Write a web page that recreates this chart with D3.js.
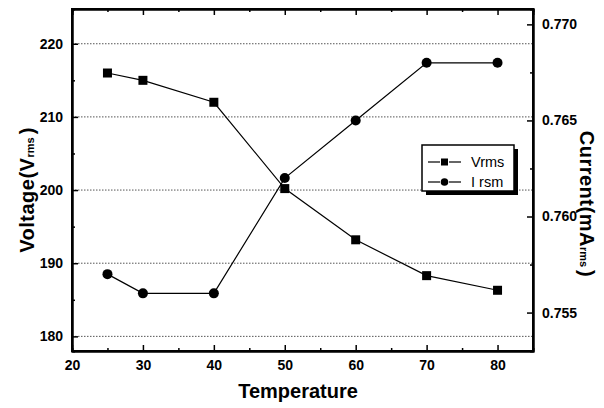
<!DOCTYPE html>
<html>
<head>
<meta charset="utf-8">
<script src="https://cdn.jsdelivr.net/npm/d3@7"></script>
<style>
  body { margin: 0; background: #fff; }
  text { font-family: "Liberation Sans", Arial, sans-serif; fill: #000; }
</style>
</head>
<body>
<div class="chart"></div>
<script>
const temperature = [25, 30, 40, 50, 60, 70, 80]
const vrms = [216, 215, 212, 200.2, 193.2, 188.3, 186.3]
const irms = [0.757, 0.756, 0.756, 0.762, 0.765, 0.768, 0.768]
const xTicks = [20, 30, 40, 50, 60, 70, 80]
const vTicks = [180, 190, 200, 210, 220]
const iTicks = [0.755, 0.760, 0.765, 0.770]

const width = 604, height = 408
const mLeft = 72, mRight = 533, mTop = 9, mBottom = 351

const svg = d3.select('.chart').append('svg')
    .attr('width', width)
    .attr('height', height)

const x = d3.scaleLinear().domain([20, 85]).range([mLeft, mRight])
const yV = d3.scaleLinear().domain([178, 224.75]).range([mBottom, mTop])
const yI = d3.scaleLinear().domain([0.753, 0.7708]).range([mBottom, mTop])

// dotted grid on the voltage ticks
svg.append('g').selectAll('line')
    .data(vTicks)
    .enter().append('line')
    .attr('x1', mLeft).attr('x2', mRight)
    .attr('y1', d => yV(d)).attr('y2', d => yV(d))
    .attr('stroke', '#555')
    .attr('stroke-width', 1)
    .attr('stroke-dasharray', '1.5,1.5')

// axes, ticks pointing inward
const tick = (axis) => axis.tickSizeOuter(0).tickSizeInner(-6).tickPadding(9)

const gx = svg.append('g').attr('transform', `translate(0,${mBottom})`)
    .call(tick(d3.axisBottom(x).tickValues(xTicks).tickFormat(d3.format('d'))))
gx.append('g').call(d3.axisBottom(x).tickValues([25, 35, 45, 55, 65, 75]).tickSize(-3).tickFormat(''))

const gxt = svg.append('g').attr('transform', `translate(0,${mTop})`)
    .call(d3.axisTop(x).tickValues(xTicks).tickSizeOuter(0).tickSize(-6).tickFormat(''))
gxt.append('g').call(d3.axisTop(x).tickValues([25, 35, 45, 55, 65, 75]).tickSize(-3).tickFormat(''))

const gl = svg.append('g').attr('transform', `translate(${mLeft},0)`)
    .call(tick(d3.axisLeft(yV).tickValues(vTicks)))
gl.append('g').call(d3.axisLeft(yV).tickValues([185, 195, 205, 215]).tickSize(-3).tickFormat(''))

const gr = svg.append('g').attr('transform', `translate(${mRight},0)`)
    .call(tick(d3.axisRight(yI).tickValues(iTicks).tickFormat(d3.format('.3f'))))
gr.append('g').call(d3.axisRight(yI).tickValues([0.7575, 0.7625, 0.7675]).tickSize(-3).tickFormat(''))

svg.selectAll('.domain').attr('stroke', '#000').attr('stroke-width', 2)
svg.selectAll('.tick line').attr('stroke', '#000').attr('stroke-width', 1.5)
svg.selectAll('.tick text')
    .style('font-size', '14px')
    .style('font-weight', 'bold')

// frame
svg.append('rect')
    .attr('x', mLeft).attr('y', mTop)
    .attr('width', mRight - mLeft).attr('height', mBottom - mTop)
    .attr('fill', 'none')
    .attr('stroke', '#000')
    .attr('stroke-width', 2)

// series
const vPts = temperature.map((t, i) => [x(t), yV(vrms[i])])
const iPts = temperature.map((t, i) => [x(t), yI(irms[i])])

svg.append('path')
    .attr('d', d3.line()(vPts))
    .attr('fill', 'none').attr('stroke', '#000').attr('stroke-width', 1.2)
svg.append('path')
    .attr('d', d3.line()(iPts))
    .attr('fill', 'none').attr('stroke', '#000').attr('stroke-width', 1.2)

svg.append('g').selectAll('rect')
    .data(vPts)
    .enter().append('rect')
    .attr('x', d => d[0] - 4.5).attr('y', d => d[1] - 4.5)
    .attr('width', 9).attr('height', 9)
    .attr('fill', '#000')

svg.append('g').selectAll('circle')
    .data(iPts)
    .enter().append('circle')
    .attr('cx', d => d[0]).attr('cy', d => d[1])
    .attr('r', 5)
    .attr('fill', '#000')

// legend
const lg = svg.append('g').attr('transform', 'translate(422,145)')
lg.append('rect').attr('x', 4).attr('y', 4).attr('width', 92).attr('height', 46).attr('fill', '#000')
lg.append('rect').attr('x', 0).attr('y', 0).attr('width', 92).attr('height', 46)
    .attr('fill', '#fff').attr('stroke', '#000').attr('stroke-width', 1.5)

const rows = [{ name: 'Vrms', shape: 'square', y: 17 }, { name: 'I rsm', shape: 'circle', y: 37 }]
rows.forEach(r => {
    lg.append('line').attr('x1', 6).attr('x2', 18).attr('y1', r.y).attr('y2', r.y)
        .attr('stroke', '#000').attr('stroke-width', 1.2)
    lg.append('line').attr('x1', 27).attr('x2', 39).attr('y1', r.y).attr('y2', r.y)
        .attr('stroke', '#000').attr('stroke-width', 1.2)
    if (r.shape === 'square') {
        lg.append('rect').attr('x', 19).attr('y', r.y - 3.5).attr('width', 7).attr('height', 7).attr('fill', '#000')
    } else {
        lg.append('circle').attr('cx', 22.5).attr('cy', r.y).attr('r', 3.8).attr('fill', '#000')
    }
    lg.append('text').attr('x', 49).attr('y', r.y + 5)
        .style('font-size', '14.5px')
        .text(r.name)
})

// axis titles
svg.append('text')
    .attr('x', 298).attr('y', 398)
    .attr('text-anchor', 'middle')
    .style('font-size', '20px').style('font-weight', 'bold')
    .text('Temperature')

const vt = svg.append('text')
    .attr('transform', 'translate(34,190) rotate(-90)')
    .attr('text-anchor', 'middle')
    .style('font-size', '20px').style('font-weight', 'bold')
    .style('letter-spacing', '0.5px')
vt.append('tspan').text('Voltage(V')
vt.append('tspan').style('font-size', '11px').style('letter-spacing', '0px').text('rms')
vt.append('tspan').attr('dx', 3).text(')')

const ct = svg.append('text')
    .attr('transform', 'translate(580,204) rotate(90)')
    .attr('text-anchor', 'middle')
    .style('font-size', '20px').style('font-weight', 'bold')
    .style('letter-spacing', '0.5px')
ct.append('tspan').text('Current(mA')
ct.append('tspan').style('font-size', '11px').style('letter-spacing', '0px').text('rms')
ct.append('tspan').attr('dx', 3).text(')')
</script>
</body>
</html>
